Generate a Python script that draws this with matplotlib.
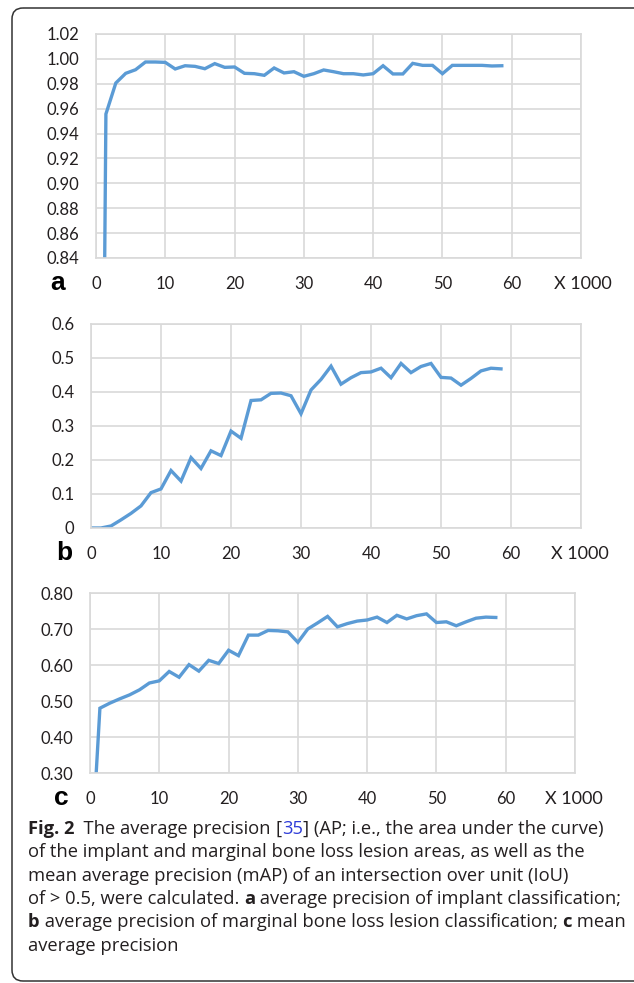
import matplotlib
matplotlib.use("Agg")
import matplotlib.pyplot as plt
from matplotlib.patches import FancyBboxPatch
from matplotlib.font_manager import FontProperties

# iterations (x 1000)
iters_k = [0, 1.43, 2.86, 4.29, 5.71, 7.14, 8.57, 10.0, 11.43, 12.86, 14.29,
           15.71, 17.14, 18.57, 20.0, 21.43, 22.86, 24.29, 25.71, 27.14, 28.57,
           30.0, 31.43, 32.86, 34.29, 35.71, 37.14, 38.57, 40.0, 41.43, 42.86,
           44.29, 45.71, 47.14, 48.57, 50.0, 51.43, 52.86, 54.29, 55.71, 57.14,
           58.57]

# a: AP implant
ap_implant = [0.0, 0.9557, 0.9806, 0.9884, 0.9913, 0.9975, 0.9975, 0.9972,
              0.9919, 0.9945, 0.9940, 0.9921, 0.9962, 0.9932, 0.9935, 0.9884,
              0.9881, 0.9868, 0.9927, 0.9887, 0.9897, 0.9860, 0.9881, 0.9911,
              0.9897, 0.9881, 0.9881, 0.9871, 0.9881, 0.9945, 0.9879, 0.9879,
              0.9964, 0.9948, 0.9948, 0.9881, 0.9948, 0.9948, 0.9948, 0.9948,
              0.9943, 0.9945]

# b: AP marginal bone loss lesion
ap_lesion = [0.0, 0.0, 0.006, 0.024, 0.043, 0.065, 0.104, 0.115, 0.169, 0.138,
             0.207, 0.175, 0.227, 0.213, 0.285, 0.264, 0.375, 0.377, 0.396,
             0.397, 0.389, 0.336, 0.406, 0.437, 0.476, 0.423, 0.442, 0.457,
             0.459, 0.470, 0.442, 0.484, 0.457, 0.475, 0.484, 0.443, 0.441,
             0.420, 0.440, 0.462, 0.470, 0.468]

# c: mAP
map_vals = [0.0, 0.480, 0.494, 0.506, 0.517, 0.531, 0.550, 0.556, 0.582, 0.566,
            0.601, 0.583, 0.613, 0.604, 0.641, 0.626, 0.683, 0.683, 0.696,
            0.695, 0.692, 0.663, 0.700, 0.717, 0.735, 0.706, 0.715, 0.722,
            0.725, 0.733, 0.718, 0.738, 0.728, 0.737, 0.742, 0.718, 0.720,
            0.709, 0.720, 0.730, 0.733, 0.732]

x_ticks = [0, 10, 20, 30, 40, 50, 60, 70]
x_ticklabels = ['0', '10', '20', '30', '40', '50', '60', '']
yticks_a = [0.84, 0.86, 0.88, 0.90, 0.92, 0.94, 0.96, 0.98, 1.00, 1.02]
yticks_b = [0, 0.1, 0.2, 0.3, 0.4, 0.5, 0.6]
yticklabels_b = ['0', '0.1', '0.2', '0.3', '0.4', '0.5', '0.6']
yticks_c = [0.30, 0.40, 0.50, 0.60, 0.70, 0.80]

LINE = '#5B9BD5'
GRID = '#D9D9D9'
TXT = '#231F20'
TICK_FONT = 'Lato'

W, H = 634, 983
fig = plt.figure(figsize=(W / 100, H / 100), dpi=100)

bg = fig.add_axes([0, 0, 1, 1], zorder=-1)
bg.set_xlim(0, W)
bg.set_ylim(H, 0)
bg.axis('off')
bg.add_patch(FancyBboxPatch((12, 8), 700, 973, boxstyle='round,pad=0,rounding_size=11',
                            fc='none', ec='#333333', lw=1.1))


def px_axes(left, top, right, bottom):
    return fig.add_axes([left / W, 1 - bottom / H, (right - left) / W, (bottom - top) / H])


def draw_panel(box, y, ylim, yticks, yticklabels, letter, letter_x, unit_x):
    ax = px_axes(*box)
    ax.plot(iters_k, y, color=LINE, lw=2.4, solid_joinstyle='miter')
    ax.set_xlim(0, 70)
    ax.set_ylim(*ylim)
    ax.set_xticks(x_ticks)
    ax.set_xticklabels(x_ticklabels)
    ax.set_yticks(yticks)
    ax.set_yticklabels(yticklabels)
    ax.grid(color=GRID, lw=1.2)
    ax.set_axisbelow(True)
    for s in ax.spines.values():
        s.set_color(GRID)
        s.set_linewidth(1.2)
    ax.tick_params(length=0, labelsize=12, colors=TXT)
    ax.tick_params(axis='x', pad=13)
    ax.tick_params(axis='y', pad=12)
    for lab in ax.get_xticklabels() + ax.get_yticklabels():
        lab.set_family(TICK_FONT)
    ybase = box[3] + 25
    bg.text(letter_x, ybase, letter, fontsize=19, fontweight='bold', family='Liberation Sans',
            ha='center', va='center', color='black')
    bg.text(unit_x, ybase + 1, 'X 1000', fontsize=13, family=TICK_FONT,
            ha='center', va='center', color=TXT)
    return ax


draw_panel((96, 34, 581, 258), ap_implant, (0.84, 1.02), yticks_a,
           ['%.2f' % v for v in yticks_a], 'a', 58, 583)
draw_panel((91, 324, 581, 528), ap_lesion, (0, 0.6), yticks_b,
           yticklabels_b, 'b', 64, 580)
draw_panel((90, 593, 575, 773), map_vals, (0.30, 0.80), yticks_c,
           ['%.2f' % v for v in yticks_c], 'c', 61, 574)

# caption, drawn run by run
cap_lines = [
    [('Fig. 2', 'bold', TXT), ('  The average precision ', 'normal', TXT), ('[', 'normal', TXT),
     ('35', 'normal', '#2F3DD8'), ('] (AP; i.e., the area under the curve)', 'normal', TXT)],
    [('of the implant and marginal bone loss lesion areas, as well as the', 'normal', TXT)],
    [('mean average precision (mAP) of an intersection over unit (IoU)', 'normal', TXT)],
    [('of > 0.5, were calculated. ', 'normal', TXT), ('a', 'bold', TXT),
     (' average precision of implant classification;', 'normal', TXT)],
    [('b', 'bold', TXT), (' average precision of marginal bone loss lesion classification; ', 'normal', TXT),
     ('c', 'bold', TXT), (' mean', 'normal', TXT)],
    [('average precision', 'normal', TXT)],
]
CAP_FONT = 'Open Sans'
renderer = fig.canvas.get_renderer()


def text_w(s, weight, size):
    fp = FontProperties(family=CAP_FONT, weight=weight, size=size)
    w1 = renderer.get_text_width_height_descent('|' + s + '|', fp, ismath=False)[0]
    w0 = renderer.get_text_width_height_descent('||', fp, ismath=False)[0]
    return w1 - w0


cap_size = 12 * 555 / text_w(cap_lines[1][0][0], 'normal', 12)
cap_y = [834, 857, 881, 904, 927, 951]
for line, yb in zip(cap_lines, cap_y):
    x = 28
    for s, weight, col in line:
        bg.text(x, yb, s, fontsize=cap_size, fontweight=weight, family=CAP_FONT,
                color=col, ha='left', va='baseline')
        x += text_w(s, weight, cap_size)

fig.savefig('out.png', dpi=100)
